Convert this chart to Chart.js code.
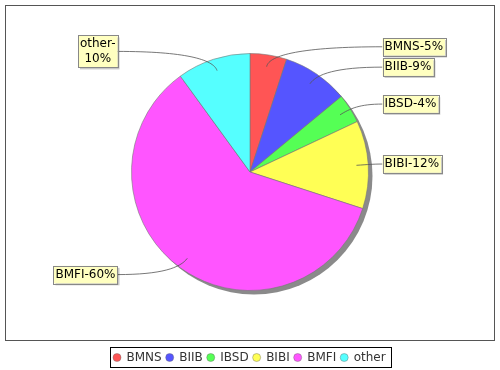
<!DOCTYPE html>
<html>
<head>
<meta charset="utf-8">
<script src="https://cdn.jsdelivr.net/npm/chart.js@4.4.0/dist/chart.umd.min.js"></script>
<style>
  html,body{margin:0;padding:0;background:#fff;}
</style>
</head>
<body>
<canvas id="myChart" width="500" height="370"></canvas>
<script>
// shares of the portfolio, clockwise from 12 o'clock
const names=["BMNS","BIIB","IBSD","BIBI","BMFI","other"];
const shares=[5,9,4,12,60,10];
const colors=["#ff5555","#5555ff","#55ff55","#ffff55","#ff55ff","#55ffff"];

const FONT='12px "DejaVu Sans", sans-serif';

// outer plot frame
const frame={
  id:'frame',
  beforeDraw(chart){
    const c=chart.ctx;
    c.save();
    c.fillStyle='#fff';
    c.fillRect(0,0,chart.width,chart.height);
    c.strokeStyle='#555';
    c.lineWidth=1;
    c.strokeRect(5.5,5.5,chart.width-11,335);
    c.restore();
  }
};

// grey drop shadow under the pie
const backdrop={
  id:'backdrop',
  beforeDatasetsDraw(chart){
    const c=chart.ctx;
    const arc=chart.getDatasetMeta(0).data[0];
    c.save();
    c.fillStyle='#8a8a8a';
    c.beginPath();
    c.arc(arc.x+4,arc.y+4,arc.outerRadius,0,Math.PI*2);
    c.fill();
    c.restore();
  }
};

// yellow boxed labels with curved links
const pieLabels={
  id:'pieLabels',
  afterDatasetsDraw(chart){
    const c=chart.ctx;
    const meta=chart.getDatasetMeta(0);
    c.save();
    c.font=FONT;
    meta.data.forEach((arc,i)=>{
      const mid=(arc.startAngle+arc.endAngle)/2;
      const R=arc.outerRadius, cx=arc.x, cy=arc.y;
      const ax=cx+Math.cos(mid)*R*0.9, ay=cy+Math.sin(mid)*R*0.9;
      const bx=cx+Math.cos(mid)*R, by=cy+Math.sin(mid)*R;
      const right=Math.cos(mid)>=0;
      const ly=cy+Math.sin(mid)*R*1.07;

      const txt=names[i]+'-'+shares[i]+'%';
      let lines=[txt];
      if(c.measureText(txt).width>62) lines=[names[i]+'-',shares[i]+'%'];
      const w=Math.max(...lines.map(l=>c.measureText(l).width))+4;
      const lh=14.5;
      const h=lines.length*lh+3;
      const bxLeft=right ? cx+R+14 : cx-R-14-w;
      const top=ly-h/2;
      const tx=right ? bxLeft : bxLeft+w;

      // link
      c.strokeStyle='#555';
      c.lineWidth=0.8;
      c.beginPath();
      c.moveTo(ax,ay);
      c.bezierCurveTo(bx,by,bx+(tx-bx)*0.3,ly,tx,ly);
      c.stroke();

      // box
      c.fillStyle='rgba(0,0,0,0.22)';
      c.fillRect(bxLeft+2,top+2,w,h);
      c.fillStyle='#ffffc0';
      c.fillRect(bxLeft,top,w,h);
      c.strokeStyle='#888';
      c.lineWidth=1;
      c.strokeRect(Math.round(bxLeft)+0.5,Math.round(top)+0.5,Math.round(w),Math.round(h));

      c.fillStyle='#000';
      c.textAlign='center';
      c.textBaseline='middle';
      lines.forEach((l,k)=>{
        c.fillText(l,bxLeft+w/2,top+1.5+lh*(k+0.5));
      });
    });
    c.restore();
  }
};

// legend row in a black box below the plot
const legendBox={
  id:'legendBox',
  afterDraw(chart){
    const c=chart.ctx;
    c.save();
    c.font=FONT;
    const widths=names.map(n=>c.measureText(n).width);
    let total=7+5;
    widths.forEach((tw,i)=>{ total+=9.5+tw+(i<names.length-1?8:0); });
    const left=Math.round(chart.width/2-total/2);
    const top=347, h=20, ymid=top+h/2+0.5;
    c.strokeStyle='#000';
    c.lineWidth=1;
    c.strokeRect(left+0.5,top+0.5,Math.round(total),h);
    let x=left+7;
    names.forEach((n,i)=>{
      c.beginPath();
      c.arc(x,ymid,4,0,Math.PI*2);
      c.fillStyle=colors[i];
      c.fill();
      c.strokeStyle='rgba(100,100,100,0.5)';
      c.lineWidth=0.8;
      c.stroke();
      c.fillStyle='#333';
      c.textAlign='left';
      c.textBaseline='middle';
      c.fillText(n,x+9.5,ymid);
      x+=9.5+widths[i]+8;
    });
    c.restore();
  }
};

const ctx=document.getElementById('myChart');
new Chart(ctx,{
  type:'pie',
  data:{
    labels:names,
    datasets:[{
      data:shares,
      backgroundColor:colors,
      borderColor:'rgba(120,120,120,0.6)',
      borderWidth:1
    }]
  },
  options:{
    responsive:false,
    animation:false,
    layout:{padding:{left:131,right:131,top:53,bottom:79}},
    plugins:{legend:{display:false},tooltip:{enabled:false}}
  },
  plugins:[frame,backdrop,pieLabels,legendBox]
});
</script>
</body>
</html>
